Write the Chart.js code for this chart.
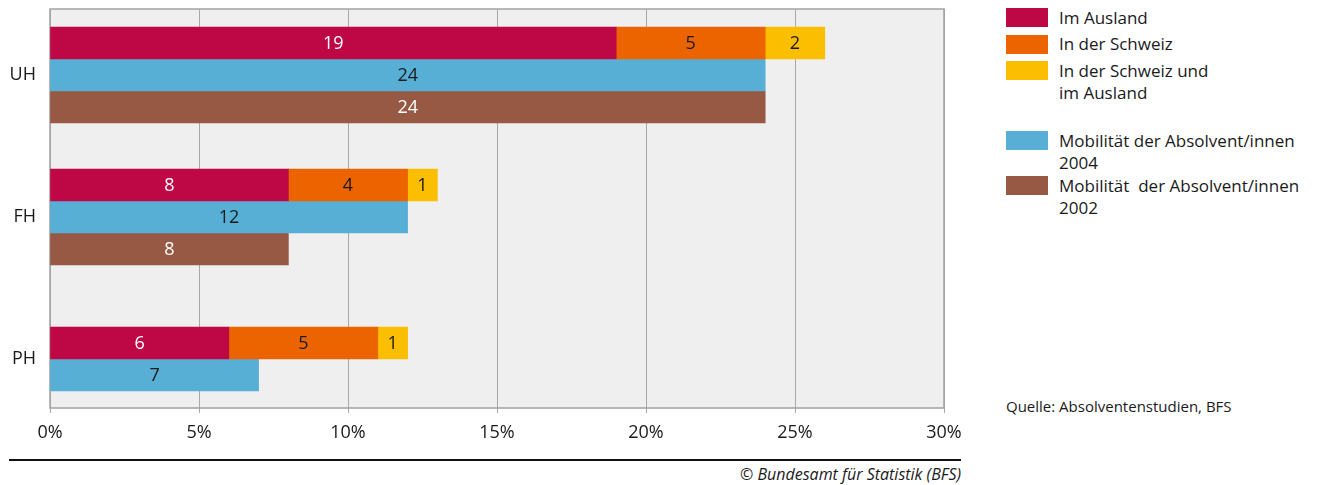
<!DOCTYPE html>
<html>
<head>
<meta charset="utf-8">
<script src="https://cdn.jsdelivr.net/npm/chart.js@4.4.1/dist/chart.umd.min.js"></script>
<style>
  body { margin: 0; background: #fff; font-family: "Open Sans", sans-serif; color: #1a1a1a; }
  #wrap { position: relative; width: 1323px; height: 485px; }
  #chart { position: absolute; left: 0; top: 0; }
  .item { position: absolute; left: 1006px; display: flex; align-items: flex-start; }
  .sw { width: 42px; height: 19px; margin-top: 1.5px; flex: none; }
  .txt { margin-left: 11px; font-size: 17px; line-height: 22px; white-space: pre; }
  #source { position: absolute; left: 1006px; top: 396px; font-size: 15px; line-height: 20px; }
  #rule { position: absolute; left: 9px; top: 459px; width: 952px; height: 1.5px; background: #111; }
  #copy { position: absolute; right: 362px; top: 464px; font-size: 16px; font-style: italic; line-height: 20px; }
</style>
</head>
<body>
<div id="wrap">
  <canvas id="chart" width="990" height="450"></canvas>
  <div id="legend"></div>
  <div id="source">Quelle: Absolventenstudien, BFS</div>
  <div id="rule"></div>
  <div id="copy">© Bundesamt für Statistik (BFS)</div>
</div>
<script>
const categories = ["UH", "FH", "PH"];
const imAusland = [19, 8, 6];
const inDerSchweiz = [5, 4, 5];
const schweizUndAusland = [2, 1, 1];
const mobil2004 = [24, 12, 7];
const mobil2002 = [24, 8, null];
const xTicks = [0, 5, 10, 15, 20, 25, 30];

const series = [
  { label: "Im Ausland", legend: "Im Ausland", values: imAusland, stack: "a", color: "#be0846", text: "#ffffff" },
  { label: "In der Schweiz", legend: "In der Schweiz", values: inDerSchweiz, stack: "a", color: "#ec6400", text: "#1a1a1a" },
  { label: "In der Schweiz und im Ausland", legend: "In der Schweiz und\nim Ausland", values: schweizUndAusland, stack: "a", color: "#fbbe00", text: "#1a1a1a" },
  { label: "Mobilität der Absolvent/innen 2004", legend: "Mobilität der Absolvent/innen\n2004", values: mobil2004, stack: "b", color: "#58afd5", text: "#1a1a1a" },
  { label: "Mobilität der Absolvent/innen 2002", legend: "Mobilität  der Absolvent/innen\n2002", values: mobil2002, stack: "c", color: "#985944", text: "#ffffff" },
];
const legendTops = [6.5, 33, 59.5, 129.5, 174.5];

const FONT = "'Open Sans', sans-serif";

// grey plot background and frame
const plotFrame = {
  id: "plotFrame",
  beforeDraw(chart) {
    const { ctx, chartArea: a } = chart;
    ctx.save();
    ctx.fillStyle = "#efefef";
    ctx.fillRect(a.left, a.top, a.right - a.left, a.bottom - a.top);
    ctx.restore();
  },
  beforeDatasetsDraw(chart) {
    const { ctx, chartArea: a } = chart;
    ctx.save();
    ctx.strokeStyle = "#a2a2a2";
    ctx.lineWidth = 1.5;
    ctx.strokeRect(a.left, a.top, a.right - a.left, a.bottom - a.top);
    ctx.restore();
  },
};

// numbers inside the bars
const barLabels = {
  id: "barLabels",
  afterDatasetsDraw(chart) {
    const ctx = chart.ctx;
    ctx.save();
    ctx.font = "18px " + FONT;
    ctx.textAlign = "center";
    ctx.textBaseline = "middle";
    chart.data.datasets.forEach((ds, i) => {
      const meta = chart.getDatasetMeta(i);
      meta.data.forEach((bar, j) => {
        const v = series[i].values[j];
        if (v == null) return;
        ctx.fillStyle = series[i].text;
        ctx.fillText(String(v), (bar.x + bar.base) / 2, bar.y + 1);
      });
    });
    ctx.restore();
  },
};

const datasets = series.map((s) => ({
  label: s.label,
  data: s.values.map((v, i) => ({ y: i, x: v })),
  stack: s.stack,
  backgroundColor: s.color,
  borderWidth: 0,
  barThickness: 32,
  skipNull: true,
}));

new Chart(document.getElementById("chart"), {
  type: "bar",
  data: { datasets },
  plugins: [plotFrame, barLabels],
  options: {
    indexAxis: "y",
    responsive: false,
    animation: false,
    layout: { padding: { left: 0, top: 9, right: 46, bottom: 0 } },
    plugins: { legend: { display: false }, tooltip: { enabled: false } },
    scales: {
      x: {
        type: "linear",
        stacked: true,
        min: 0,
        max: 30,
        afterBuildTicks: (s) => { s.ticks = xTicks.map((v) => ({ value: v })); },
        afterFit: (s) => { s.height = 42; },
        ticks: {
          callback: (v) => v + "%",
          font: { family: FONT, size: 18 },
          color: "#1a1a1a",
          padding: 9,
          maxRotation: 0,
        },
        grid: { color: "#a8a8a8", lineWidth: 1, tickLength: 5 },
        border: { display: false },
      },
      y: {
        type: "linear",
        stacked: true,
        reverse: true,
        offset: false,
        min: -0.465,
        max: 2.345,
        afterBuildTicks: (s) => { s.ticks = categories.map((c, i) => ({ value: i })); },
        afterFit: (s) => { s.width = 50; s.paddingTop = 0; s.paddingBottom = 0; },
        ticks: {
          callback: (v) => categories[v],
          font: { family: FONT, size: 18 },
          color: "#1a1a1a",
          padding: 14,
        },
        grid: { display: false, drawTicks: false, offset: false },
        border: { display: false },
      },
    },
  },
});

// legend on the right
const legend = document.getElementById("legend");
series.forEach((s, i) => {
  const row = document.createElement("div");
  row.className = "item";
  row.style.top = legendTops[i] + "px";
  const sw = document.createElement("div");
  sw.className = "sw";
  sw.style.background = s.color;
  const t = document.createElement("div");
  t.className = "txt";
  t.textContent = s.legend;
  row.appendChild(sw);
  row.appendChild(t);
  legend.appendChild(row);
});
</script>
</body>
</html>
